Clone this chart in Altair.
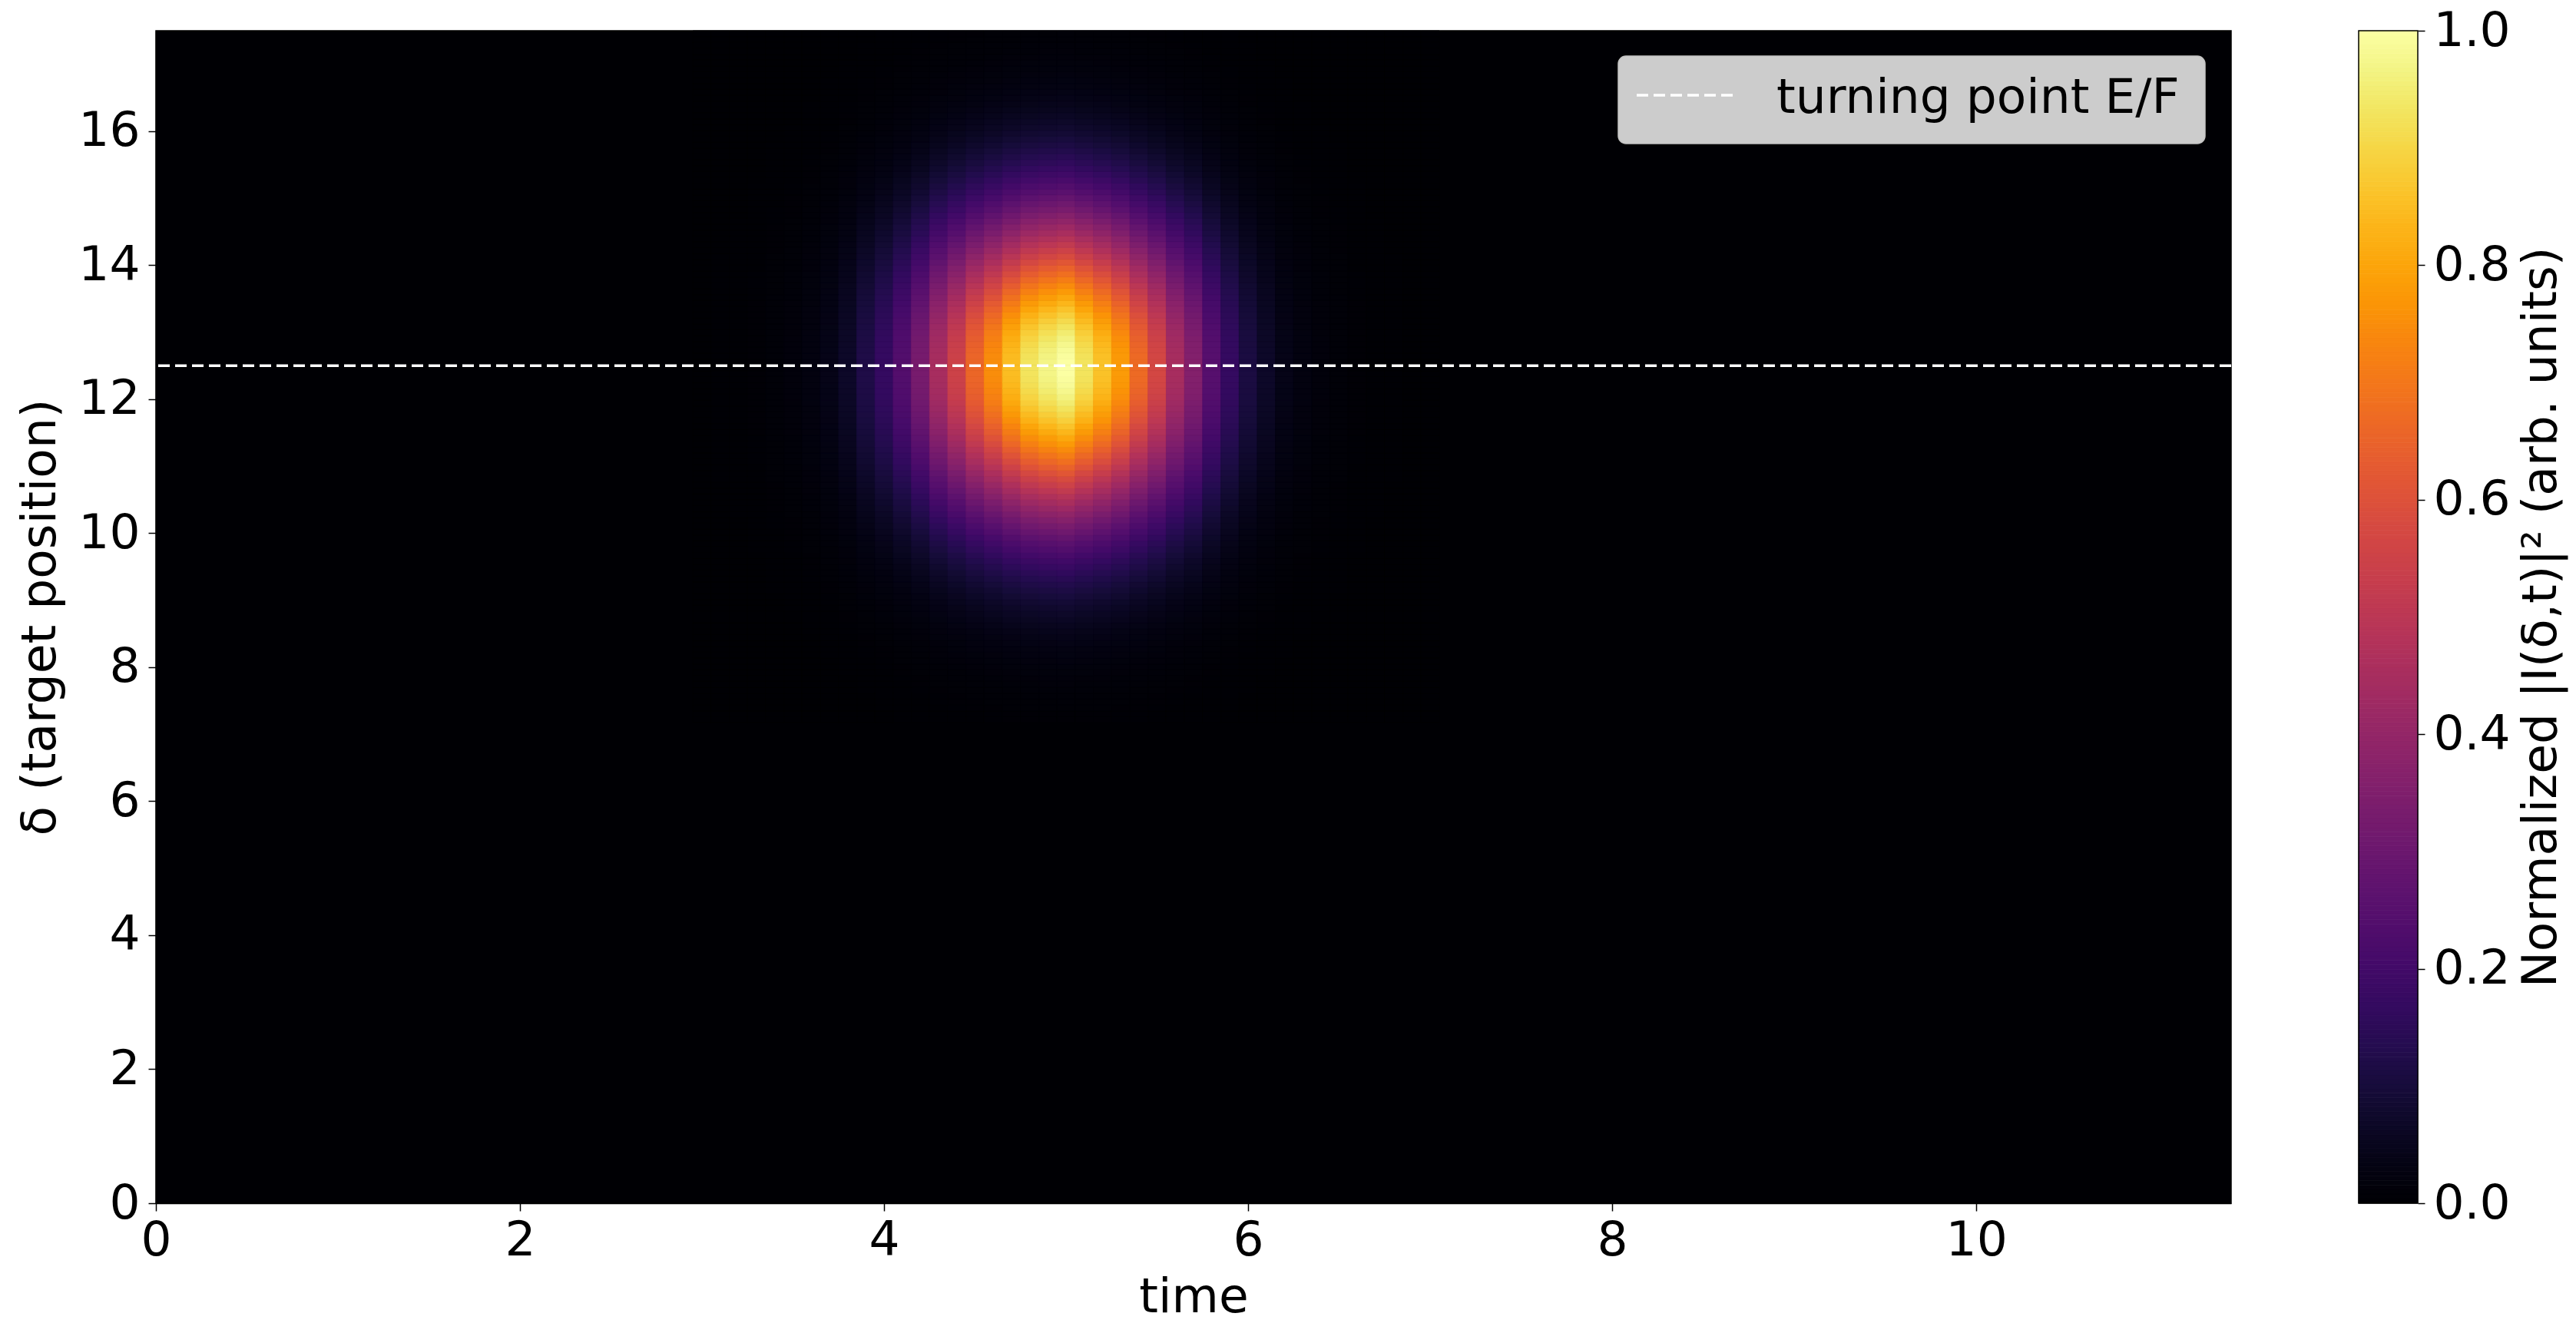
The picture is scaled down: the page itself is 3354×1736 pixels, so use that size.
import altair as alt
import pandas as pd

# ---------------- data ----------------
# heat-map column centres (time, step 0.1) around the pulse
time_centres = [3.0, 3.1, 3.2, 3.3, 3.4, 3.5, 3.6, 3.7, 3.8, 3.9,
                4.0, 4.1, 4.2, 4.3, 4.4, 4.5, 4.6, 4.7, 4.8, 4.9,
                5.0, 5.1, 5.2, 5.3, 5.4, 5.5, 5.6, 5.7, 5.8, 5.9,
                6.0, 6.1, 6.2, 6.3, 6.4, 6.5, 6.6, 6.7, 6.8, 6.9, 7.0]
# intensity along the brightest row (delta ~ 12.5)
time_profile = [0.001, 0.002, 0.003, 0.005, 0.010, 0.015, 0.025, 0.040, 0.070, 0.120,
                0.170, 0.240, 0.330, 0.450, 0.550, 0.660, 0.750, 0.850, 0.930, 0.970,
                1.000, 0.930, 0.860, 0.780, 0.670, 0.570, 0.450, 0.360, 0.250, 0.170,
                0.110, 0.070, 0.040, 0.025, 0.015, 0.010, 0.005, 0.003, 0.002, 0.001, 0.001]

# delta rows: 200 rows of height 0.0875 over 0..17.5, brightest row index 142
delta_step = 0.0875
n_rows = 200
peak_row = 142
# relative intensity versus row distance from the brightest row (same above and below)
delta_half_profile = [1.000, 0.999, 0.994, 0.987, 0.976, 0.963, 0.948, 0.929, 0.909, 0.886,
                      0.861, 0.835, 0.806, 0.777, 0.746, 0.714, 0.682, 0.649, 0.616, 0.583,
                      0.550, 0.517, 0.485, 0.453, 0.423, 0.393, 0.364, 0.336, 0.310, 0.284,
                      0.260, 0.238, 0.216, 0.196, 0.178, 0.160, 0.144, 0.129, 0.115, 0.103,
                      0.091, 0.081, 0.072, 0.063, 0.055, 0.048, 0.042, 0.037, 0.032, 0.028,
                      0.024, 0.020, 0.018, 0.015, 0.013, 0.011, 0.009, 0.008, 0.007, 0.005,
                      0.005]

turning_point = [12.5]
legend_label = ["turning point E/F"]

x_ticks = [0, 2, 4, 6, 8, 10]
y_ticks = [0, 2, 4, 6, 8, 10, 12, 14, 16]
cb_ticks = [0.0, 0.2, 0.4, 0.6, 0.8, 1.0]
x_domain = [0, 11.4]
y_domain = [0, 17.5]

# ---------------- tables ----------------
cells = []
nr = len(delta_half_profile) - 1
for t, tv in zip(time_centres, time_profile):
    for r in range(-nr, nr + 1):
        j = peak_row + r
        if j < 0 or j >= n_rows:
            continue
        cells.append({"t0": t - 0.05, "t1": t + 0.05,
                      "d0": j * delta_step, "d1": (j + 1) * delta_step,
                      "value": tv * delta_half_profile[abs(r)]})
cells_df = pd.DataFrame(cells)

n_cb = 256
cb_df = pd.DataFrame({"v0": [i / n_cb for i in range(n_cb)],
                      "v1": [(i + 1) / n_cb for i in range(n_cb)],
                      "value": [(i + 0.5) / n_cb for i in range(n_cb)]})

rule_df = pd.DataFrame({"d0": turning_point})
leg_df = pd.DataFrame({"label": legend_label})

W, H = 2702, 1527
FONT = "DejaVu Sans"
FS = 63

cscale = alt.Scale(scheme="inferno", domain=[0, 1])
xscale = alt.Scale(domain=x_domain, nice=False, zero=False)
yscale = alt.Scale(domain=y_domain, nice=False, zero=False)

heat = alt.Chart(cells_df).mark_rect(strokeWidth=0.8).encode(
    x=alt.X("t0:Q", scale=xscale,
            axis=alt.Axis(values=x_ticks, title="time", format="d", labelFlush=False,
                          labelPadding=7, titlePadding=11)),
    x2="t1:Q",
    y=alt.Y("d0:Q", scale=yscale,
            axis=alt.Axis(values=y_ticks, title="δ (target position)", format="d",
                          orient="left", labelFlush=False, labelPadding=11, titlePadding=17)),
    y2="d1:Q",
    color=alt.Color("value:Q", scale=cscale, legend=None),
    stroke=alt.Stroke("value:Q", scale=cscale, legend=None),
)

rule = alt.Chart(rule_df).mark_rule(color="white", strokeWidth=3.5, strokeDash=[15, 7]).encode(
    y=alt.Y("d0:Q", scale=yscale)
)

box = alt.Chart(leg_df).mark_rect(fill="#cccccc", stroke="#c4c4c4", strokeWidth=1.5,
                                  cornerRadius=10).encode(
    x=alt.value(1904), x2=alt.value(2668), y=alt.value(33), y2=alt.value(147)
)
legline = alt.Chart(leg_df).mark_rule(color="white", strokeWidth=3.5, strokeDash=[15, 7]).encode(
    x=alt.value(1928), x2=alt.value(2056), y=alt.value(84)
)
legtext = alt.Chart(leg_df).mark_text(align="left", baseline="alphabetic", fontSize=FS,
                                      font=FONT, color="black").encode(
    x=alt.value(2110), y=alt.value(107), text="label:N"
)

cb = alt.Chart(cb_df).mark_rect(strokeWidth=0.8).encode(
    x=alt.value(2868), x2=alt.value(2945),
    y=alt.Y("v0:Q", scale=alt.Scale(domain=[0, 1], nice=False, zero=False),
            axis=alt.Axis(orient="right", offset=243, values=cb_ticks, format=".1f",
                          title="Normalized |I(δ,t)|² (arb. units)",
                          titleAngle=270, titleBaseline="top", titlePadding=9,
                          labelPadding=11, tickSize=9, domain=False, labelFlush=False)),
    y2="v1:Q",
    color=alt.Color("value:Q", scale=cscale, legend=None),
    stroke=alt.Stroke("value:Q", scale=cscale, legend=None),
)

outline = alt.Chart(leg_df).mark_rect(fillOpacity=0, stroke="black", strokeWidth=1.5).encode(
    x=alt.value(2868), x2=alt.value(2945), y=alt.value(0), y2=alt.value(H)
)

inner = alt.layer(heat, rule, box, legline, legtext)

chart = alt.layer(inner, cb, outline).resolve_scale(y="independent").properties(
    width=W, height=H,
    autosize=alt.AutoSizeParams(type="none"),
    padding={"left": 195, "top": 32, "right": 441, "bottom": 159},
).configure_view(
    fill="#000004", stroke="black", strokeWidth=1.5
).configure_axis(
    labelFont=FONT, titleFont=FONT, labelFontSize=FS, titleFontSize=FS,
    titleFontWeight="normal", labelColor="black", titleColor="black",
    tickColor="black", domainColor="black", tickWidth=1.5, domainWidth=1.5,
    tickSize=10, grid=False
)

chart.save("out.html", embed_options={"renderer": "svg", "actions": False})
